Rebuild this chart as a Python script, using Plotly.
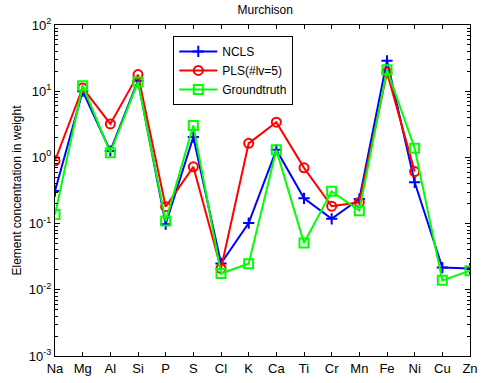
import plotly.graph_objects as go

elements = ["Na", "Mg", "Al", "Si", "P", "S", "Cl", "K", "Ca", "Ti", "Cr", "Mn", "Fe", "Ni", "Cu", "Zn"]
ncls = [0.31, 10.0, 1.25, 14.4, 0.098, 2.03, 0.025, 0.102, 1.3, 0.241, 0.118, 0.235, 28.8, 0.42, 0.0217, 0.0209]
pls = [0.89, 11.2, 3.2, 17.8, 0.18, 0.72, 0.021, 1.63, 3.41, 0.695, 0.183, 0.21, 19.2, 0.61, None, None]
ground = [0.137, 12.1, 1.18, 13.8, 0.109, 3.04, 0.0176, 0.0247, 1.30, 0.051, 0.307, 0.157, 21.1, 1.37, 0.0139, 0.0194]
ytick_vals = [1e-3, 1e-2, 1e-1, 1e0, 1e1, 1e2]
ytick_text = ["10<sup>-3</sup>", "10<sup>-2</sup>", "10<sup>-1</sup>", "10<sup>0</sup>", "10<sup>1</sup>", "10<sup>2</sup>"]

font = "Liberation Sans, Arial, sans-serif"
x = list(range(len(elements)))

fig = go.Figure()
fig.add_trace(go.Scatter(x=x, y=ncls, mode="lines+markers", name="NCLS",
                         line=dict(color="#0000FF", width=2),
                         marker=dict(symbol="cross-thin-open", size=8, line=dict(color="#0000FF", width=2))))
fig.add_trace(go.Scatter(x=x, y=pls, mode="lines+markers", name="PLS(#lv=5)",
                         line=dict(color="#FF0000", width=2),
                         marker=dict(symbol="circle-open", size=9, line=dict(color="#FF0000", width=2))))
fig.add_trace(go.Scatter(x=x, y=ground, mode="lines+markers", name="Groundtruth",
                         line=dict(color="#00FF00", width=2),
                         marker=dict(symbol="square-open", size=9, line=dict(color="#00FF00", width=2))))

minor_vals = [m * 10 ** k for k in range(-3, 2) for m in range(2, 10)]

fig.update_layout(
    width=485, height=383,
    margin=dict(l=55, r=7, t=25, b=25),
    paper_bgcolor="white", plot_bgcolor="white",
    font=dict(family=font, size=13, color="black"),
    title=dict(text="Murchison", x=0.547, xanchor="center", y=0.985, yanchor="top",
               font=dict(size=12, family=font)),
    showlegend=True,
    legend=dict(x=0.285, y=0.967, xanchor="left", yanchor="top",
                bordercolor="black", borderwidth=1, bgcolor="white",
                font=dict(size=12, family=font), tracegroupgap=0, itemwidth=38),
    xaxis=dict(range=[0, len(elements) - 1], tickvals=x, ticktext=elements,
               showgrid=False, zeroline=False, showline=True, linecolor="black", linewidth=1,
               mirror="ticks", ticks="inside", ticklen=4, tickcolor="black",
               tickfont=dict(size=13)),
    yaxis=dict(type="log", range=[-3, 2], tickvals=ytick_vals, ticktext=ytick_text,
               showgrid=False, zeroline=False, showline=True, linecolor="black", linewidth=1,
               mirror="ticks", ticks="inside", ticklen=5, tickcolor="black",
               tickfont=dict(size=13),
               minor=dict(tickvals=minor_vals, ticks="inside", ticklen=3, tickcolor="black", showgrid=False),
               title=dict(text="Element concentration in weight", font=dict(size=12), standoff=4)),
)

fig.write_html("out.html")
